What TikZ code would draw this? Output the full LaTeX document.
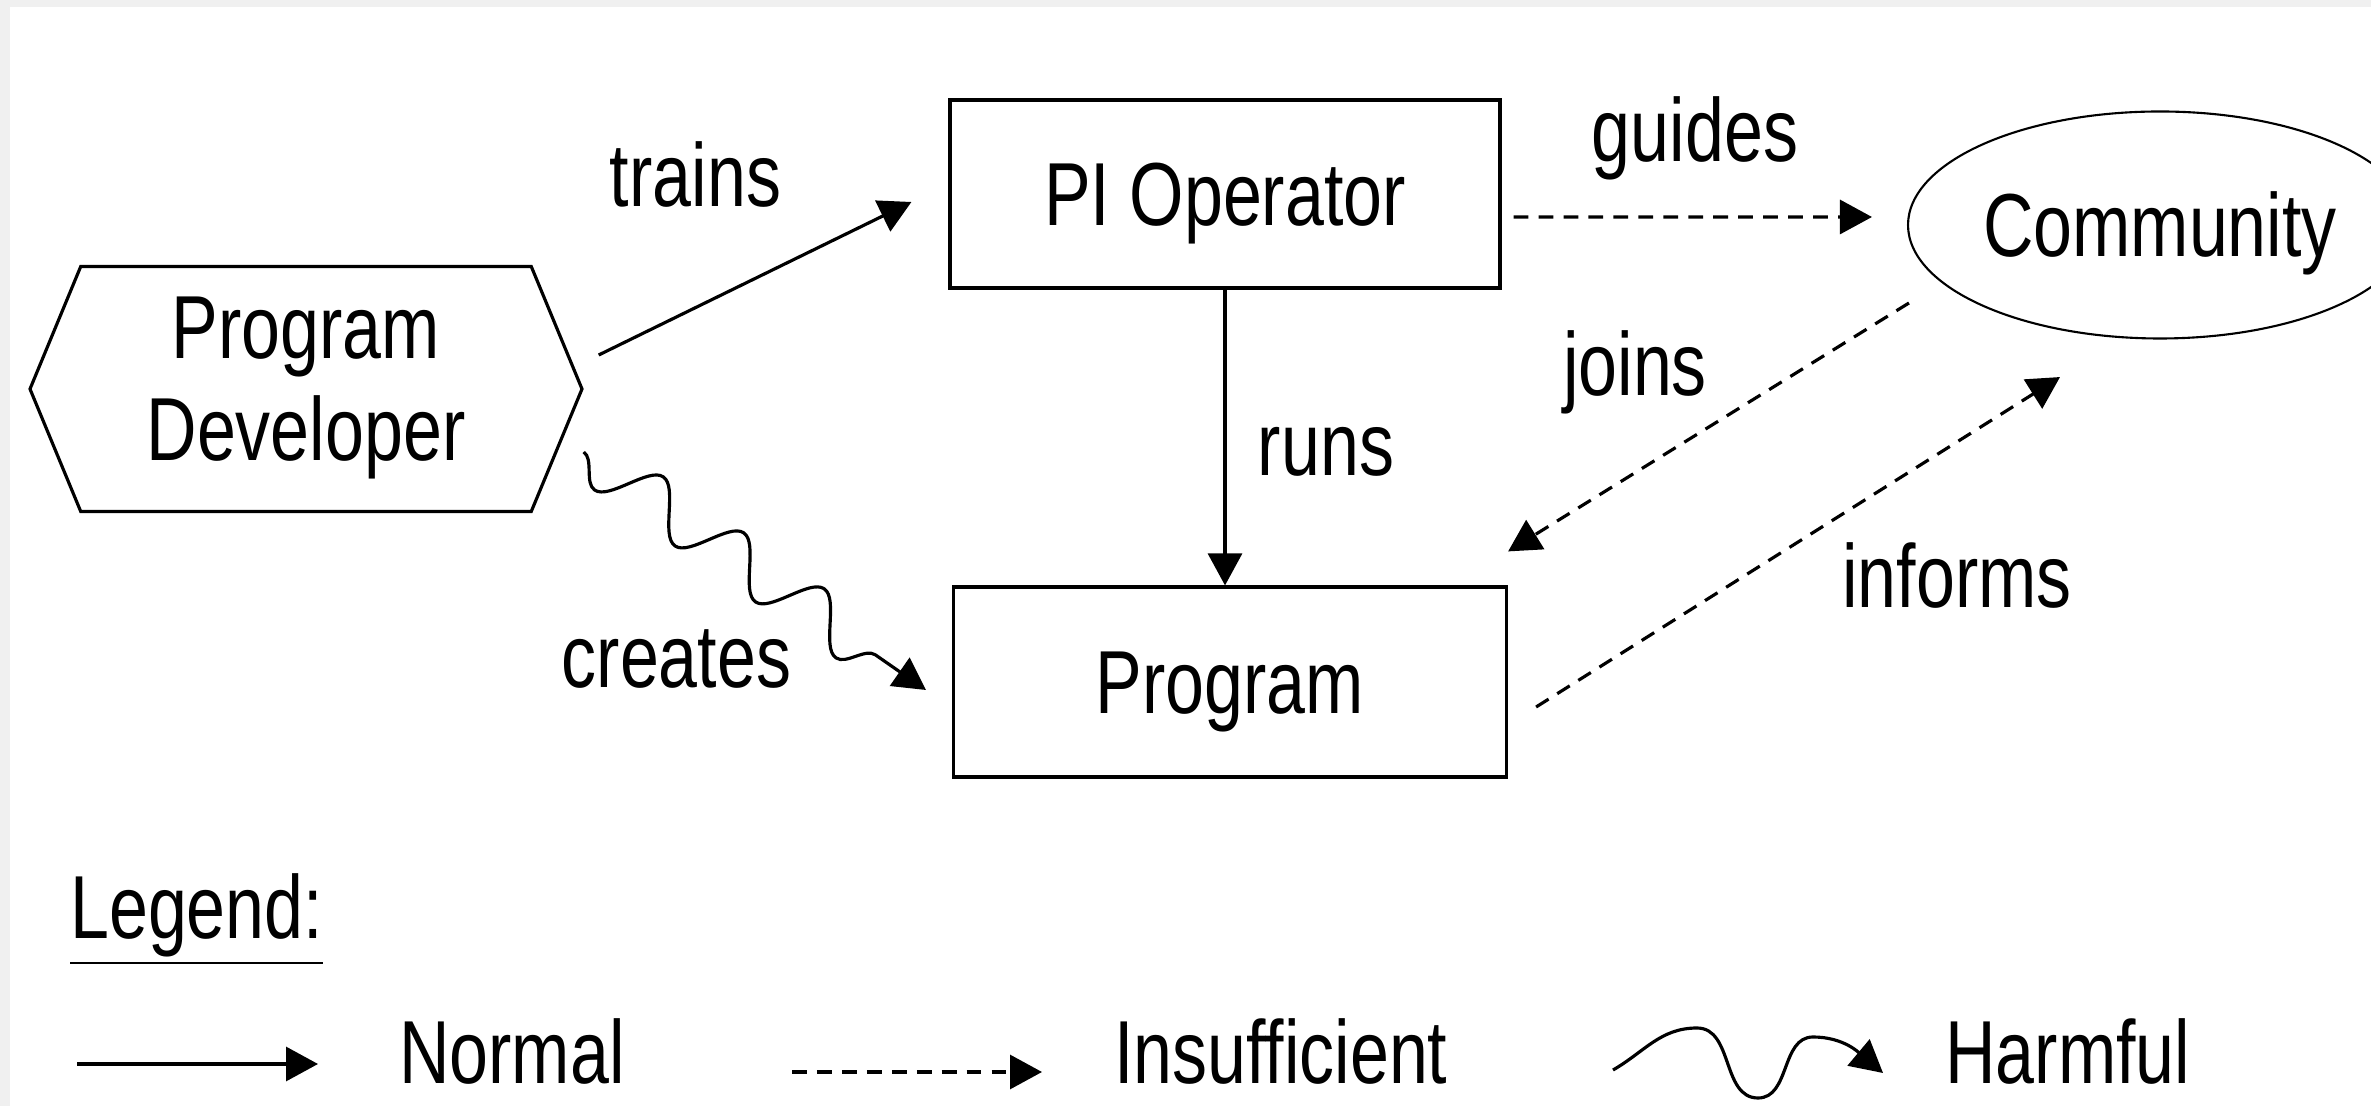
\documentclass[tikz,border=0pt]{standalone}
\usepackage{fontspec}
\setmainfont{Liberation Sans}
\usepackage{graphicx}
\usetikzlibrary{shapes.symbols,shapes.geometric,arrows.meta,decorations.pathmorphing}
\definecolor{bggrey}{HTML}{F0F0F0}
\newcommand{\diafont}{\fontsize{19.9}{22.8}\selectfont}
\newcommand{\tall}[1]{\scalebox{1}[1.28]{#1}}

\begin{document}
\begin{tikzpicture}[font=\diafont, line width=0.9pt,
  box/.style={draw, rectangle, minimum width=5.5cm, minimum height=1.88cm,
    text height=0.64cm, text depth=0pt, inner sep=0pt},
  normalarr/.style={-{Triangle[length=0.32cm,width=0.34cm]}},
  weakarr/.style={dash pattern=on 4.2pt off 2.9pt, -{Triangle[length=0.32cm,width=0.34cm]}},
  harmarr/.style={-{Triangle[length=0.32cm,width=0.34cm]}, decorate,
    decoration={snake, mirror, segment length=0.98cm, amplitude=0.25cm, post length=0.3cm}},
  lbl/.style={anchor=base}]
  \useasboundingbox (0,0) rectangle (23.71,11.06);
  \fill[bggrey] (0,0) rectangle (23.71,11.06);
  \fill[white] (0.10,0) rectangle (23.71,10.99);

  % actors
  \node[signal, signal to=east and west, signal pointer angle=135, draw,
    minimum width=5.52cm, minimum height=2.45cm, inner sep=0pt] (dev) at (3.06,7.17)
    {\tall{\begin{tabular}{@{}c@{}}Program\\Developer\end{tabular}}};
  \node[box] (pio) at (12.25,9.12) {\tall{PI Operator}};
  \node[box, minimum width=5.53cm, minimum height=1.90cm] (prog) at (12.30,4.24) {\tall{Program}};
  \node[ellipse, draw, line width=0.6pt, minimum width=5.04cm, minimum height=2.27cm,
    text height=0.64cm, text depth=0pt, inner sep=0pt] (comm) at (21.60,8.81) {\tall{Community}};

  % relations
  \draw[normalarr] ([shift={(0.15,0.34)}]dev.east) -- ([shift={(-0.37,-0.08)}]pio.west);
  \node[lbl] (trains) at (6.955,8.99) {\tall{trains}};
  \draw[normalarr] (pio.south) -- (pio.south |- prog.north);
  \node[lbl] (runs) at (13.26,6.30) {\tall{runs}};
  \draw[weakarr] ([shift={(0.12,-0.23)}]pio.east) -- ([shift={(-0.35,0.08)}]comm.west);
  \node[lbl] (guides) at (16.95,9.44) {\tall{guides}};
  \draw[weakarr] ([shift={(0.02,-0.78)}]comm.west) -- ([shift={(0,0.34)}]prog.north east);
  \node[lbl] (joins) at (16.35,7.10) {\tall{joins}};
  \draw[weakarr] ([shift={(0.28,-0.25)}]prog.east) -- ([shift={(-1.00,-0.375)}]comm.south);
  \node[lbl] (informs) at (19.57,4.98) {\tall{informs}};
  \draw[harmarr] ([shift={(0,-0.63)}]dev.east) -- ([shift={(-0.26,-0.08)}]prog.west);
  \node[lbl] (creates) at (6.765,4.18) {\tall{creates}};

  % legend
  \node[anchor=base west] (legend) at (0.57,1.68) {\tall{\underline{Legend:}}};
  \coordinate (nA) at (0.77,0.42);
  \coordinate (nB) at (3.18,0.42);
  \draw[normalarr] (nA) -- (nB);
  \node[anchor=base west] (legNormal) at (3.86,0.23) {\tall{Normal}};
  \coordinate (iA) at (7.92,0.34);
  \coordinate (iB) at (10.42,0.34);
  \draw[weakarr] (iA) -- (iB);
  \node[anchor=base west] (legInsuff) at (11.01,0.23) {\tall{Insufficient}};
  \coordinate (hA) at (16.13,0.36);
  \coordinate (hB) at (18.83,0.33);
  \draw[normalarr] (hA) to[out=30,in=180] (16.97,0.78) to[out=0,in=180] (17.58,0.08)
    to[out=0,in=180] (18.13,0.69) to[out=0,in=140] (hB);
  \node[anchor=base west] (legHarm) at (19.32,0.23) {\tall{Harmful}};
\end{tikzpicture}
\end{document}
